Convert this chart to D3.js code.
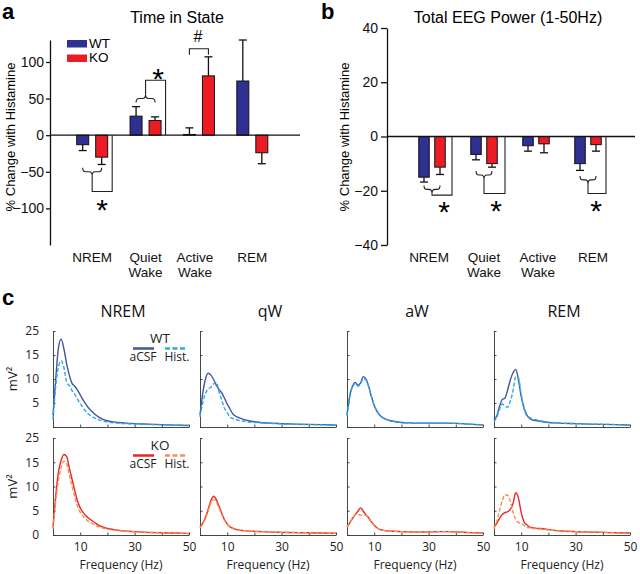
<!DOCTYPE html>
<html><head><meta charset="utf-8">
<script src="https://cdn.jsdelivr.net/npm/d3@7"></script>
<style>body{margin:0;background:#fff}svg{display:block}</style>
</head><body>
<svg id="fig" width="640" height="574"></svg>
<script>
// ---------- DATA ----------
const states = ["NREM", "Quiet Wake", "Active Wake", "REM"];
const genotypes = ["WT", "KO"];
// Panel a: % change in time in state
const timeWT = [-13, 26, 1, 74];
const timeWTsem = [8, 13, 9, 56];
const timeKO = [-30, 20, 81, -24];
const timeKOsem = [10, 5, 26, 15];
const timeTicks = [-100, -50, 0, 50, 100];
// Panel b: % change in total EEG power
const powerWT = [-15, -6.6, -3.4, -10];
const powerWTsem = [1.8, 2.0, 2.0, 2.5];
const powerKO = [-11.3, -10, -2.7, -3];
const powerKOsem = [2.7, 1.3, 3.3, 2.4];
const powerTicks = [-40, -20, 0, 20, 40];
// Panel c: spectra
const specStates = ["NREM", "qW", "aW", "REM"];
const freqs = [0,1,2,3,4,5,6,7,8,9,10,11,12,13,14,16,18,20,23,26,30,35,40,45,50];
const wtACSF = [
  [2.5,10,16.5,18.3,16.3,13.2,10.8,9.1,8.5,7.7,6.7,5.7,4.8,4.0,3.4,2.4,1.7,1.3,1.0,0.85,0.7,0.6,0.5,0.4,0.3],
  [2.5,7,10,11.2,10.8,9.9,8.7,7.8,7.1,6.0,4.8,3.8,2.8,2.3,2.0,1.6,1.3,1.1,0.9,0.8,0.7,0.6,0.55,0.5,0.4],
  [2.5,6.5,8.5,9.3,8.7,9.2,10.5,10.0,8.4,6.3,4.5,3.3,2.5,2.0,1.7,1.3,1.1,0.95,0.85,0.8,0.8,0.8,0.75,0.6,0.4],
  [1.5,2.3,4.2,5.7,6.0,7.7,9.8,11.3,12.0,9.8,6.4,4.0,2.6,1.8,1.5,1.3,1.1,0.95,0.85,0.75,0.7,0.6,0.55,0.5,0.4]
];
const wtHist = [
  [1.5,8.5,12.5,13.8,12.4,9.4,8.6,7.6,6.8,5.8,4.9,4.1,3.3,2.7,2.3,1.7,1.3,1.05,0.85,0.7,0.6,0.5,0.45,0.35,0.3],
  [2.1,5,7,7.9,8.3,9.0,9.3,7.3,5.6,3.9,3.0,2.1,1.8,1.6,1.4,1.2,1.05,0.95,0.85,0.75,0.65,0.55,0.5,0.45,0.4],
  [2.3,6.2,8.3,9.0,8.5,9.0,10.1,9.8,8.3,6.3,4.5,3.3,2.5,2.0,1.7,1.3,1.1,0.95,0.85,0.8,0.8,0.8,0.75,0.6,0.4],
  [1.1,2.0,3.6,4.8,4.4,4.1,5.4,7.5,10.5,10.2,6.8,3.9,2.4,2.0,1.7,1.45,1.2,1.0,0.85,0.75,0.7,0.6,0.55,0.5,0.4]
];
const koACSF = [
  [1.6,8.0,13.0,15.4,16.6,16.2,13.8,11.5,9.2,7.0,5.6,4.7,4.0,3.5,3.1,2.3,1.7,1.35,1.05,0.85,0.7,0.55,0.45,0.4,0.3],
  [1.6,2.4,3.6,5.3,7.1,8.0,7.3,5.9,4.5,3.2,2.3,1.7,1.4,1.2,1.05,0.9,0.8,0.75,0.7,0.6,0.55,0.5,0.45,0.4,0.35],
  [1.6,2.5,3.4,4.2,4.9,5.6,4.9,4.1,3.5,2.7,2.0,1.5,1.15,1.0,0.9,0.8,0.75,0.7,0.65,0.6,0.65,0.7,0.65,0.5,0.4],
  [1.6,2.4,3.4,4.2,4.6,4.8,5.3,6.5,8.7,7.6,4.6,2.8,2.1,1.7,1.5,1.35,1.3,1.1,0.9,0.8,0.7,0.6,0.55,0.45,0.4]
];
const koHist = [
  [1.3,7.0,11.2,13.9,15.2,14.7,12.4,10.0,7.8,5.9,4.7,3.9,3.3,2.8,2.5,1.9,1.5,1.2,0.95,0.8,0.65,0.5,0.45,0.4,0.3],
  [1.5,2.3,3.4,5.0,6.6,7.3,6.8,5.5,4.2,3.0,2.2,1.6,1.3,1.15,1.0,0.9,0.8,0.75,0.7,0.6,0.55,0.5,0.45,0.4,0.35],
  [1.6,2.5,3.4,4.1,4.3,4.1,4.1,4.0,3.4,2.6,2.0,1.5,1.15,1.0,0.9,0.8,0.75,0.7,0.65,0.6,0.65,0.7,0.65,0.5,0.4],
  [1.3,2.8,5.0,7.0,8.3,8.2,6.9,4.7,3.2,2.6,2.4,2.0,1.6,1.5,1.4,1.3,1.2,1.05,0.9,0.8,0.7,0.6,0.55,0.45,0.4]
];
const specTicks = [0, 5, 10, 15, 20];
const specTickLabels = ["0", "5", "10", "15", "25"];
const freqTicks = [10, 20, 30, 40, 50];
const freqTickLabels = ["10", "", "30", "", "50"];

// ---------- STYLE ----------
const FA = "'Liberation Sans', Arial, sans-serif";
const FC = "'Open Sans', sans-serif";
const C_WT = "#2e3192", C_KO = "#ed1c24";
const C_WT_A = "#3f55a5", C_WT_H = "#2eaae1", C_KO_A = "#e8262b", C_KO_H = "#f4914f";

const svg = d3.select("#fig");

function panelLabel(t, x, y) {
  svg.append("text").attr("x", x).attr("y", y).attr("font-family", FA)
    .attr("font-weight", "bold").attr("font-size", 22).text(t);
}

function brace(x1, x2, y, d, h) {
  const m = (x1 + x2) / 2, q = 3;
  return `M${x1},${y - d * h} Q${x1},${y} ${x1 + q},${y} L${m - q},${y} Q${m},${y} ${m},${y + d * h}` +
         ` Q${m},${y} ${m + q},${y} L${x2 - q},${y} Q${x2},${y} ${x2},${y - d * h}`;
}

function star(g, x, y) {
  g.append("text").attr("x", x).attr("y", y + 17).attr("text-anchor", "middle")
    .attr("font-family", FA).attr("font-size", 30).text("*");
}

function barPanel(o) {
  const g = svg.append("g");
  const y = d3.scaleLinear().domain(o.yDomain).range(o.yRange);
  const x = d3.scaleBand().domain(states).range(o.bandRange);
  const cx = s => x(s) + x.bandwidth() / 2;
  // axis
  const ax = g.append("g").attr("transform", `translate(${o.axisX},0)`)
    .call(d3.axisLeft(y).tickValues(o.ticks).tickSize(o.tick).tickSizeOuter(0).tickPadding(o.pad));
  ax.selectAll("text").attr("font-family", FA).attr("font-size", 14).attr("fill", "#111");
  ax.selectAll("line,path").attr("stroke", "#111").attr("stroke-width", 1.3);
  // title, y label
  g.append("text").attr("x", o.titleX).attr("y", 23).attr("text-anchor", "middle")
    .attr("font-family", FA).attr("font-size", 16).text(o.title);
  g.append("text").attr("transform", `translate(${o.ylabX},137) rotate(-90)`).attr("text-anchor", "middle")
    .attr("font-family", FA).attr("font-size", 13).text("% Change with Histamine");
  // bars
  const series = [[o.wt, o.wtSem, C_WT, -o.off], [o.ko, o.koSem, C_KO, o.off]];
  series.forEach(([vals, sems, col, dx]) => {
    states.forEach((s, i) => {
      const v = vals[i], e = sems[i], bx = cx(s) + dx;
      const sign = v >= 0 ? 1 : -1;
      g.append("line").attr("x1", bx).attr("x2", bx).attr("y1", y(v)).attr("y2", y(v + sign * e))
        .attr("stroke", "#111").attr("stroke-width", 1.3);
      g.append("line").attr("x1", bx - 4).attr("x2", bx + 4).attr("y1", y(v + sign * e)).attr("y2", y(v + sign * e))
        .attr("stroke", "#111").attr("stroke-width", 1.3);
      g.append("rect").attr("x", bx - o.barW / 2).attr("width", o.barW)
        .attr("y", y(Math.max(v, 0))).attr("height", Math.abs(y(v) - y(0)))
        .attr("fill", col).attr("stroke", "#111").attr("stroke-width", 1);
    });
  });
  // zero line
  g.append("line").attr("x1", o.axisX).attr("x2", o.zeroEnd).attr("y1", y(0)).attr("y2", y(0))
    .attr("stroke", "#111").attr("stroke-width", 1.3);
  // category labels
  states.forEach((s, si) => {
    const t = g.append("text").attr("text-anchor", "middle").attr("font-family", FA).attr("font-size", 13.5).attr("fill", "#111");
    s.split(" ").forEach((w, k) => t.append("tspan").attr("x", cx(s) + o.labDx[si]).attr("y", 262 + k * 15).text(w));
  });
  // significance
  o.sig.forEach(sg => {
    const c = cx(states[sg.i]);
    const x1 = c - o.off, x2 = c + o.off;
    const yb = y(sg.braceV), tip = yb + sg.dir * 4;
    g.append("path").attr("d", brace(x1, x2, yb, sg.dir, 4)).attr("fill", "none").attr("stroke", "#222").attr("stroke-width", 1.1);
    g.append("path").attr("d", `M${c},${tip} L${c},${y(sg.lineV)} L${c + sg.rightDx},${y(sg.lineV)} L${c + sg.rightDx},${y(0)}`)
      .attr("fill", "none").attr("stroke", "#222").attr("stroke-width", 1.1);
    star(g, c + sg.starDx, y(sg.starV));
  });
  return {g, x, y, cx};
}

// ---------- PANEL A ----------
panelLabel("a", 2, 19);
const A = barPanel({
  yDomain: [-150, 130], yRange: [245, 40], axisX: 50, zeroEnd: 300, bandRange: [65.5, 279],
  off: 9.5, barW: 12, ticks: timeTicks, tick: 4, pad: 2, title: "Time in State", titleX: 177, ylabX: 15,
  wt: timeWT, wtSem: timeWTsem, ko: timeKO, koSem: timeKOsem, labDx: [0, 0, -4, 0],
  sig: [
    {i: 0, braceV: -50, dir: 1, lineV: -77, rightDx: 20, starDx: 10, starV: -92},
    {i: 1, braceV: 50, dir: -1, lineV: 75, rightDx: 20, starDx: 12.5, starV: 86}
  ]
});
// "#" bracket for Active Wake
{
  const c = A.cx("Active Wake");
  A.g.append("path").attr("d", `M${c - 9.5},${A.y(110)} L${c - 9.5},${A.y(118)} L${c + 9.5},${A.y(118)} L${c + 9.5},${A.y(110)}`)
    .attr("fill", "none").attr("stroke", "#222").attr("stroke-width", 1.1);
  A.g.append("text").attr("x", c - 1).attr("y", A.y(134) + 5).attr("text-anchor", "middle")
    .attr("font-family", FA).attr("font-size", 16).text("#");
}
// legend a
[[genotypes[0], C_WT], [genotypes[1], C_KO]].forEach(([t, col], k) => {
  A.g.append("rect").attr("x", 67).attr("y", 40 + k * 14.5).attr("width", 20).attr("height", 7.5).attr("fill", col);
  A.g.append("text").attr("x", 89).attr("y", 47.5 + k * 14.5).attr("font-family", FA).attr("font-size", 13.5).text(t);
});

// ---------- PANEL B ----------
panelLabel("b", 321, 19);
barPanel({
  yDomain: [-40, 40], yRange: [245, 28], axisX: 387, zeroEnd: 635, bandRange: [406, 614],
  off: 8, barW: 10.5, ticks: powerTicks, tick: 6, pad: 3, title: "Total EEG Power (1-50Hz)", titleX: 508, ylabX: 349,
  wt: powerWT, wtSem: powerWTsem, ko: powerKO, koSem: powerKOsem, labDx: [-3, 0, 2, 5],
  sig: [
    {i: 0, braceV: -19.5, dir: 1, lineV: -21.6, rightDx: 20, starDx: 12, starV: -25.3},
    {i: 1, braceV: -14.2, dir: 1, lineV: -21, rightDx: 21, starDx: 12, starV: -25},
    {i: 3, braceV: -16, dir: 1, lineV: -21, rightDx: 18, starDx: 8, starV: -25}
  ]
});

// ---------- PANEL C ----------
panelLabel("c", 2, 305);
const colX = [53, 200, 347, 494], colW = 136;
const rowsC = [
  {top: 331, bottom: 427, a: wtACSF, h: wtHist, ca: C_WT_A, ch: C_WT_H, name: genotypes[0]},
  {top: 438, bottom: 535, a: koACSF, h: koHist, ca: C_KO_A, ch: C_KO_H, name: genotypes[1]}
];
specStates.forEach((s, j) => {
  svg.append("text").attr("x", colX[j] + colW / 2 + 2).attr("y", 317).attr("text-anchor", "middle")
    .attr("font-family", FC).attr("font-size", 16).attr("fill", "#111").text(s);
});
rowsC.forEach((r, ri) => {
  const y = d3.scaleLinear().domain([0, 20]).range([r.bottom, r.top]);
  specStates.forEach((s, j) => {
    const x = d3.scaleLinear().domain([0, 50]).range([colX[j], colX[j] + colW]);
    const g = svg.append("g");
    const ya = g.append("g").attr("transform", `translate(${colX[j]},0)`)
      .call(d3.axisLeft(y).tickValues(specTicks).tickSize(-2.5).tickSizeOuter(0).tickPadding(14)
        .tickFormat((d, k) => (j === 0 && !(ri === 0 && d === 0)) ? specTickLabels[k] : ""));
    const xa = g.append("g").attr("transform", `translate(0,${r.bottom})`)
      .call(d3.axisBottom(x).tickValues(freqTicks).tickSize(-2.5).tickSizeOuter(0).tickPadding(7)
        .tickFormat((d, k) => ri === 1 ? freqTickLabels[k] : ""));
    [ya, xa].forEach(a => {
      a.selectAll("text").filter(function () { return this.textContent === ""; }).remove();
      a.selectAll("text").attr("font-family", FC).attr("font-size", 12).attr("fill", "#222");
      a.selectAll("line,path").attr("stroke", "#333").attr("stroke-width", 0.9);
    });
    const line = d3.line().x((d, k) => x(freqs[k])).y(d => y(d)).curve(d3.curveMonotoneX);
    g.append("path").attr("d", line(r.a[j])).attr("fill", "none").attr("stroke", r.ca).attr("stroke-width", 1.4);
    g.append("path").attr("d", line(r.h[j])).attr("fill", "none").attr("stroke", r.ch).attr("stroke-width", 1.4)
      .attr("stroke-dasharray", "4,2");
    if (ri === 1) {
      g.append("text").attr("x", colX[j] + colW / 2).attr("y", 569).attr("text-anchor", "middle")
        .attr("font-family", FC).attr("font-size", 12).attr("fill", "#222").text("Frequency (Hz)");
    }
  });
  // mV² label
  svg.append("text").attr("transform", `translate(17,${(r.top + r.bottom) / 2}) rotate(-90)`)
    .attr("text-anchor", "middle").attr("font-family", FC).attr("font-size", 13).attr("fill", "#222").text("mV²");
  // legend
  const lg = svg.append("g");
  lg.append("text").attr("x", 160).attr("y", r.top + 11.5).attr("text-anchor", "middle")
    .attr("font-family", FC).attr("font-size", 13.5).attr("fill", "#222").text(r.name);
  lg.append("line").attr("x1", 133).attr("x2", 154).attr("y1", r.top + 17.5).attr("y2", r.top + 17.5)
    .attr("stroke", r.ca).attr("stroke-width", 2.5);
  lg.append("line").attr("x1", 165).attr("x2", 187).attr("y1", r.top + 17.5).attr("y2", r.top + 17.5)
    .attr("stroke", r.ch).attr("stroke-width", 2.5).attr("stroke-dasharray", "5,2.5");
  lg.append("text").attr("x", 143).attr("y", r.top + 30).attr("text-anchor", "middle")
    .attr("font-family", FC).attr("font-size", 12).attr("fill", "#222").text("aCSF");
  lg.append("text").attr("x", 177).attr("y", r.top + 30).attr("text-anchor", "middle")
    .attr("font-family", FC).attr("font-size", 12).attr("fill", "#222").text("Hist.");
});
</script>
</body></html>
